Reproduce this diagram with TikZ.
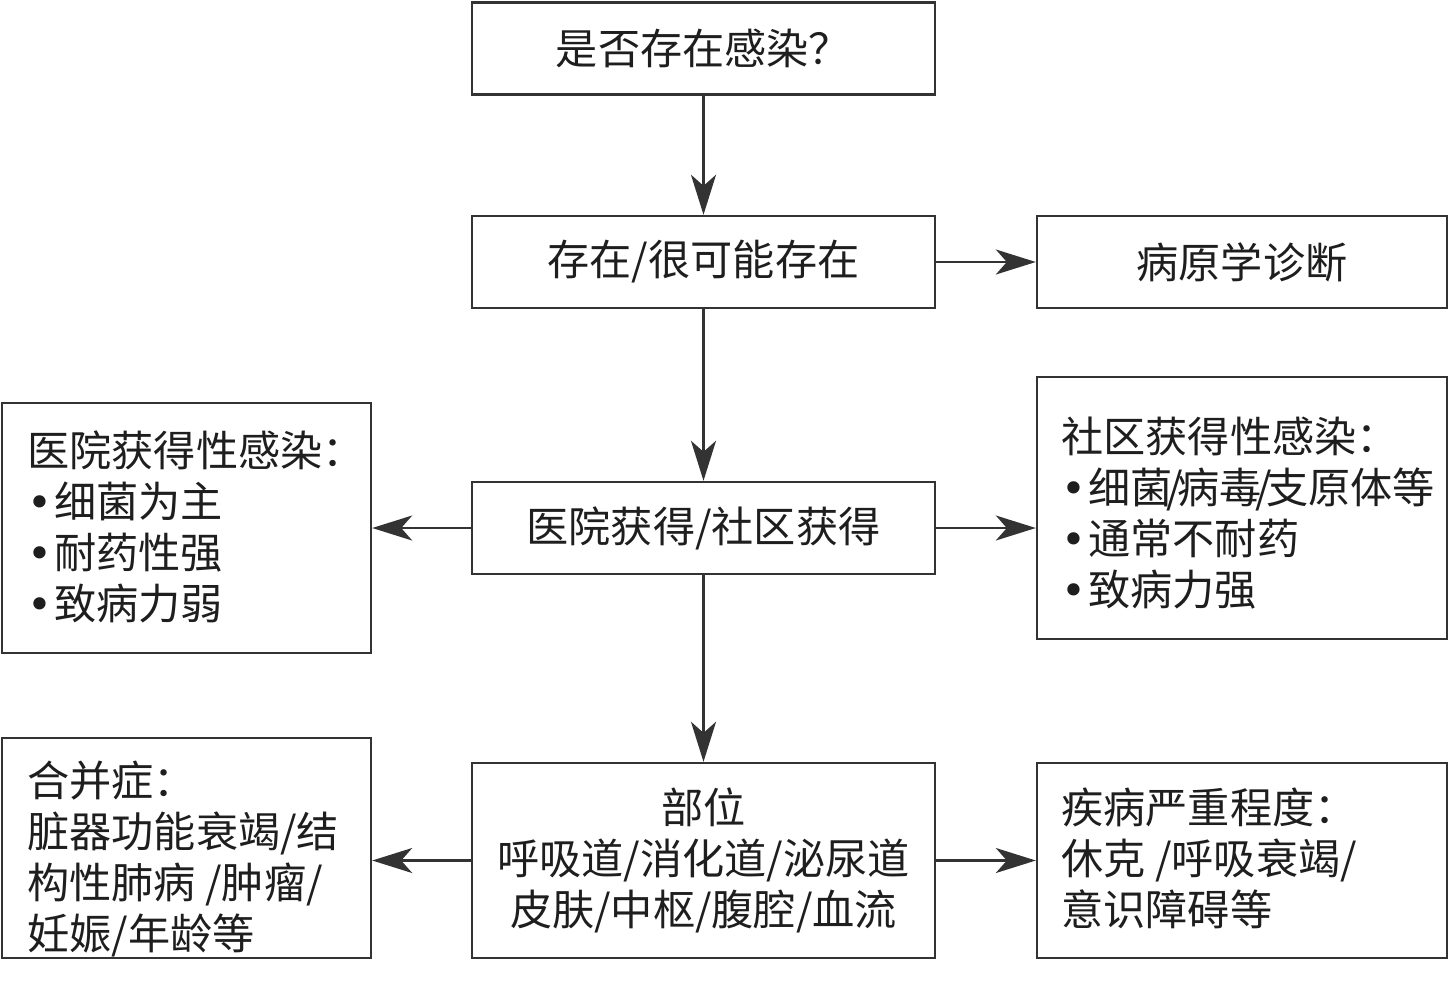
\documentclass[tikz,border=0pt]{standalone}
\usepackage{fontspec}
\newfontfamily\cjk{Noto Sans CJK SC}
\newfontfamily\bulfont{DejaVu Sans}
\usetikzlibrary{arrows.meta}
\definecolor{lc}{HTML}{333333}
\definecolor{tc}{HTML}{1E1E1E}
\tikzset{
  box/.style={draw=lc, line width=1.4pt, rectangle, inner sep=0pt},
  mainbox/.style={box, minimum width=9.26cm, minimum height=1.84cm},
  sidebox/.style={box, minimum width=8.2cm, minimum height=1.84cm},
  txt/.style={font=\cjk\fontsize{24}{29}\selectfont, text=tc, align=left, inner sep=0pt},
  ctxt/.style={font=\cjk\fontsize{24}{29}\selectfont, text=tc, align=center},
  arr/.style={draw=lc, line width=1.4pt, -{Stealth[length=0.8cm,width=0.5cm,inset=0.22cm]}}
}
\newcommand{\tslash}{\kern-0.14em/\kern-0.14em}
\newcommand{\bul}{{\bulfont •}\kern0.05em}
\begin{document}
\begin{tikzpicture}[x=0.02cm,y=-0.02cm]
\useasboundingbox (0,0) rectangle (1450,988);
% central column
\node[mainbox, ctxt] (top) at (703.5,48.5) {是否存在感染？};
\node[mainbox, ctxt] (b2) at (703.5,262) {存在/很可能存在};
\node[sidebox, ctxt] (pd) at (1242,262) {病原学诊断};
\node[mainbox, ctxt] (b3) at (703.5,528) {医院获得/社区获得};
\node[mainbox, ctxt, minimum height=3.9cm] (b4) at (703.5,860.5) {部位\\呼吸道/消化道/泌尿道\\皮肤/中枢/腹腔/血流};
% side boxes
\node[box, minimum width=7.38cm, minimum height=5.0cm] (L3) at (186.5,528) {};
\node[txt, anchor=west] (L3t) at (27,527) {医院获得性感染：\\\bul 细菌为主\\\bul 耐药性强\\\bul 致病力弱};
\node[box, minimum width=8.2cm, minimum height=5.24cm] (R3) at (1242,508) {};
\node[txt, anchor=west] (R3t) at (1061,513) {社区获得性感染：\\\bul 细菌\tslash 病毒\tslash 支原体等\\\bul 通常不耐药\\\bul 致病力强};
\node[box, minimum width=7.38cm, minimum height=4.4cm] (L4) at (186.5,848) {};
\node[txt, anchor=west] (L4t) at (27,859) {合并症：\\脏器功能衰竭/结\\构性肺病 /肿瘤/\\妊娠/年龄等};
\node[sidebox, minimum height=3.9cm] (R4) at (1242,860.5) {};
\node[txt, anchor=west] (R4t) at (1061,858) {疾病严重程度：\\休克 /呼吸衰竭/\\意识障碍等};
% connectors
\draw[arr] (top.south) -- (b2.north);
\draw[arr] (b2.east) -- (pd.west);
\draw[arr] (b2.south) -- (b3.north);
\draw[arr] (b3.west) -- (b3.west -| L3.east);
\draw[arr] (b3.east) -- (b3.east -| R3.west);
\draw[arr] (b3.south) -- (b4.north);
\draw[arr] (b4.west) -- (b4.west -| L4.east);
\draw[arr] (b4.east) -- (b4.east -| R4.west);
\end{tikzpicture}
\end{document}
